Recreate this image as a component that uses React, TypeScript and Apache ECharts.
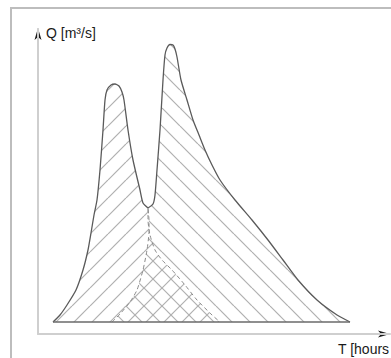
import React, { useEffect, useRef } from "react";
import * as echarts from "echarts";

// Hydrograph 1 (first flood wave): visible limb from start to the trough
const flood1Visible: [number, number][] = [
  [1.5, 2.4], [2.2, 3.8], [2.9, 5.8], [3.8, 8.8], [4.5, 12.8], [5.0, 16.8],
  [5.3, 20.2], [5.6, 23.8], [5.9, 26.8], [6.2, 32.8], [6.5, 40.8], [6.7, 46.8],
  [6.9, 48.8], [7.3, 49.8], [7.7, 50.0], [8.1, 49.6], [8.4, 48.4], [8.6, 46.8],
  [9.0, 40.8], [9.5, 34.8], [10.2, 28.8], [10.5, 26.2], [11.0, 25.2],
];
// Hydrograph 1: hidden (dashed) recession limb below the trough
const flood1Recession: [number, number][] = [
  [11.0, 25.2], [11.0, 22.8], [11.2, 19.8], [11.7, 16.8], [12.4, 14.8],
  [13.4, 12.8], [14.7, 9.8], [15.9, 6.8], [17.4, 3.8], [18.2, 2.4],
];
// Hydrograph 2: hidden (dashed) rising limb up to the trough
const flood2Rising: [number, number][] = [
  [7.4, 2.4], [8.2, 4.0], [9.2, 6.4], [9.9, 8.8], [10.5, 12.8], [10.9, 16.8],
  [11.1, 20.4], [11.1, 22.8], [11.0, 25.2],
];
// Hydrograph 2: visible limb from the trough to the end
const flood2Visible: [number, number][] = [
  [11.0, 25.2], [11.5, 26.0], [11.7, 27.8], [11.9, 32.8], [12.2, 40.8],
  [12.5, 50.8], [12.7, 55.8], [12.9, 57.2], [13.2, 57.9], [13.5, 57.8],
  [13.7, 57.0], [13.9, 55.4], [14.3, 50.8], [14.9, 46.8], [15.5, 42.8],
  [16.1, 39.8], [16.7, 36.8], [17.4, 33.8], [18.2, 30.8], [19.7, 26.8],
  [21.4, 22.8], [23.0, 18.8], [24.5, 14.8], [26.0, 10.8], [27.9, 6.8],
  [29.9, 3.8], [31.2, 2.4],
];
const baseFlow = 2.4;
const baseStartT = 1.5;
const baseEndT = 31.2;
const axisMaxT = 35.2;
const axisMaxQ = 61;
const yAxisTitle = "Q [m³/s]";
const xAxisTitle = "T [hours";

function makeHatch(dir: "up" | "down"): HTMLCanvasElement {
  const s = 18;
  const c = document.createElement("canvas");
  c.width = s;
  c.height = s;
  const ctx = c.getContext("2d")!;
  ctx.strokeStyle = "#b0b0b0";
  ctx.lineWidth = 1.2;
  for (let k = -1; k <= 1; k++) {
    ctx.beginPath();
    if (dir === "up") {
      ctx.moveTo(k * s, s);
      ctx.lineTo(k * s + s, 0);
    } else {
      ctx.moveTo(k * s, 0);
      ctx.lineTo(k * s + s, s);
    }
    ctx.stroke();
  }
  return c;
}

export default function App() {
  const ref = useRef<HTMLDivElement>(null);
  useEffect(() => {
    document.body.style.margin = "0";
    const chart = echarts.init(ref.current!, undefined, { renderer: "svg" });
    const hatchUp = makeHatch("up");
    const hatchDown = makeHatch("down");
    const curveColor = "#5a5a5a";
    const dashColor = "#8a8a8a";
    const smooth = 0.2;
    const flood1All = flood1Visible.concat(flood1Recession.slice(1));
    const flood2All = flood2Rising.concat(flood2Visible.slice(1));
    const areaSeries = (data: [number, number][], img: HTMLCanvasElement) => ({
      type: "line",
      data,
      smooth,
      symbol: "none",
      silent: true,
      lineStyle: { width: 0, opacity: 0 },
      areaStyle: {
        origin: baseFlow,
        opacity: 1,
        color: { image: img, repeat: "repeat", imageWidth: 18, imageHeight: 18 },
      },
    });
    const lineSeries = (data: [number, number][], color: string, dashed: boolean, width: number) => ({
      type: "line",
      data,
      smooth,
      symbol: "none",
      silent: true,
      lineStyle: { color, width, type: dashed ? [4, 3] : "solid" },
    });
    chart.setOption({
      animation: false,
      backgroundColor: "#ffffff",
      grid: { left: 38, top: 29, right: 1, bottom: 24 },
      xAxis: {
        type: "value",
        min: 0,
        max: axisMaxT,
        axisLine: { show: true, lineStyle: { color: "#cfcfcf", width: 2 } },
        axisTick: { show: false },
        axisLabel: { show: false },
        splitLine: { show: false },
      },
      yAxis: {
        type: "value",
        min: 0,
        max: axisMaxQ,
        axisLine: { show: true, onZero: false, lineStyle: { color: "#cfcfcf", width: 2 } },
        axisTick: { show: false },
        axisLabel: { show: false },
        splitLine: { show: false },
      },
      series: [
        areaSeries(flood1All, hatchUp),
        areaSeries(flood2All, hatchDown),
        lineSeries(flood1Recession, dashColor, true, 1),
        lineSeries(flood2Rising, dashColor, true, 1),
        lineSeries(flood1Visible, curveColor, false, 1.3),
        lineSeries(flood2Visible, curveColor, false, 1.3),
        lineSeries([[baseStartT, baseFlow], [baseEndT, baseFlow]], "#6a6a6a", false, 1.3),
      ],
      graphic: [
        {
          type: "rect",
          silent: true,
          shape: { x: 11, y: 8, width: 500, height: 500 },
          style: { fill: "none", stroke: "#bdbdbd", lineWidth: 2 },
        },
        {
          type: "polygon",
          silent: true,
          shape: { points: [[38, 28], [41.5, 40], [38, 37], [34.5, 40]] },
          style: { fill: "#1a1a1a" },
        },
        {
          type: "polygon",
          silent: true,
          shape: { points: [[390, 334], [378, 330.5], [381, 334], [378, 337.5]] },
          style: { fill: "#1a1a1a" },
        },
        {
          type: "text",
          x: 46,
          y: 33,
          style: {
            text: yAxisTitle,
            fontFamily: "Liberation Sans, Arial, sans-serif",
            fontSize: 14,
            fill: "#1a1a1a",
            verticalAlign: "middle",
          },
        },
        {
          type: "text",
          x: 338,
          y: 349,
          style: {
            text: xAxisTitle,
            fontFamily: "Liberation Sans, Arial, sans-serif",
            fontSize: 14,
            fill: "#1a1a1a",
            verticalAlign: "middle",
          },
        },
      ],
    });
    return () => chart.dispose();
  }, []);
  return (
    <div
      ref={ref}
      style={{ position: "fixed", left: 0, top: 0, width: 391, height: 358, background: "#fff" }}
    />
  );
}
